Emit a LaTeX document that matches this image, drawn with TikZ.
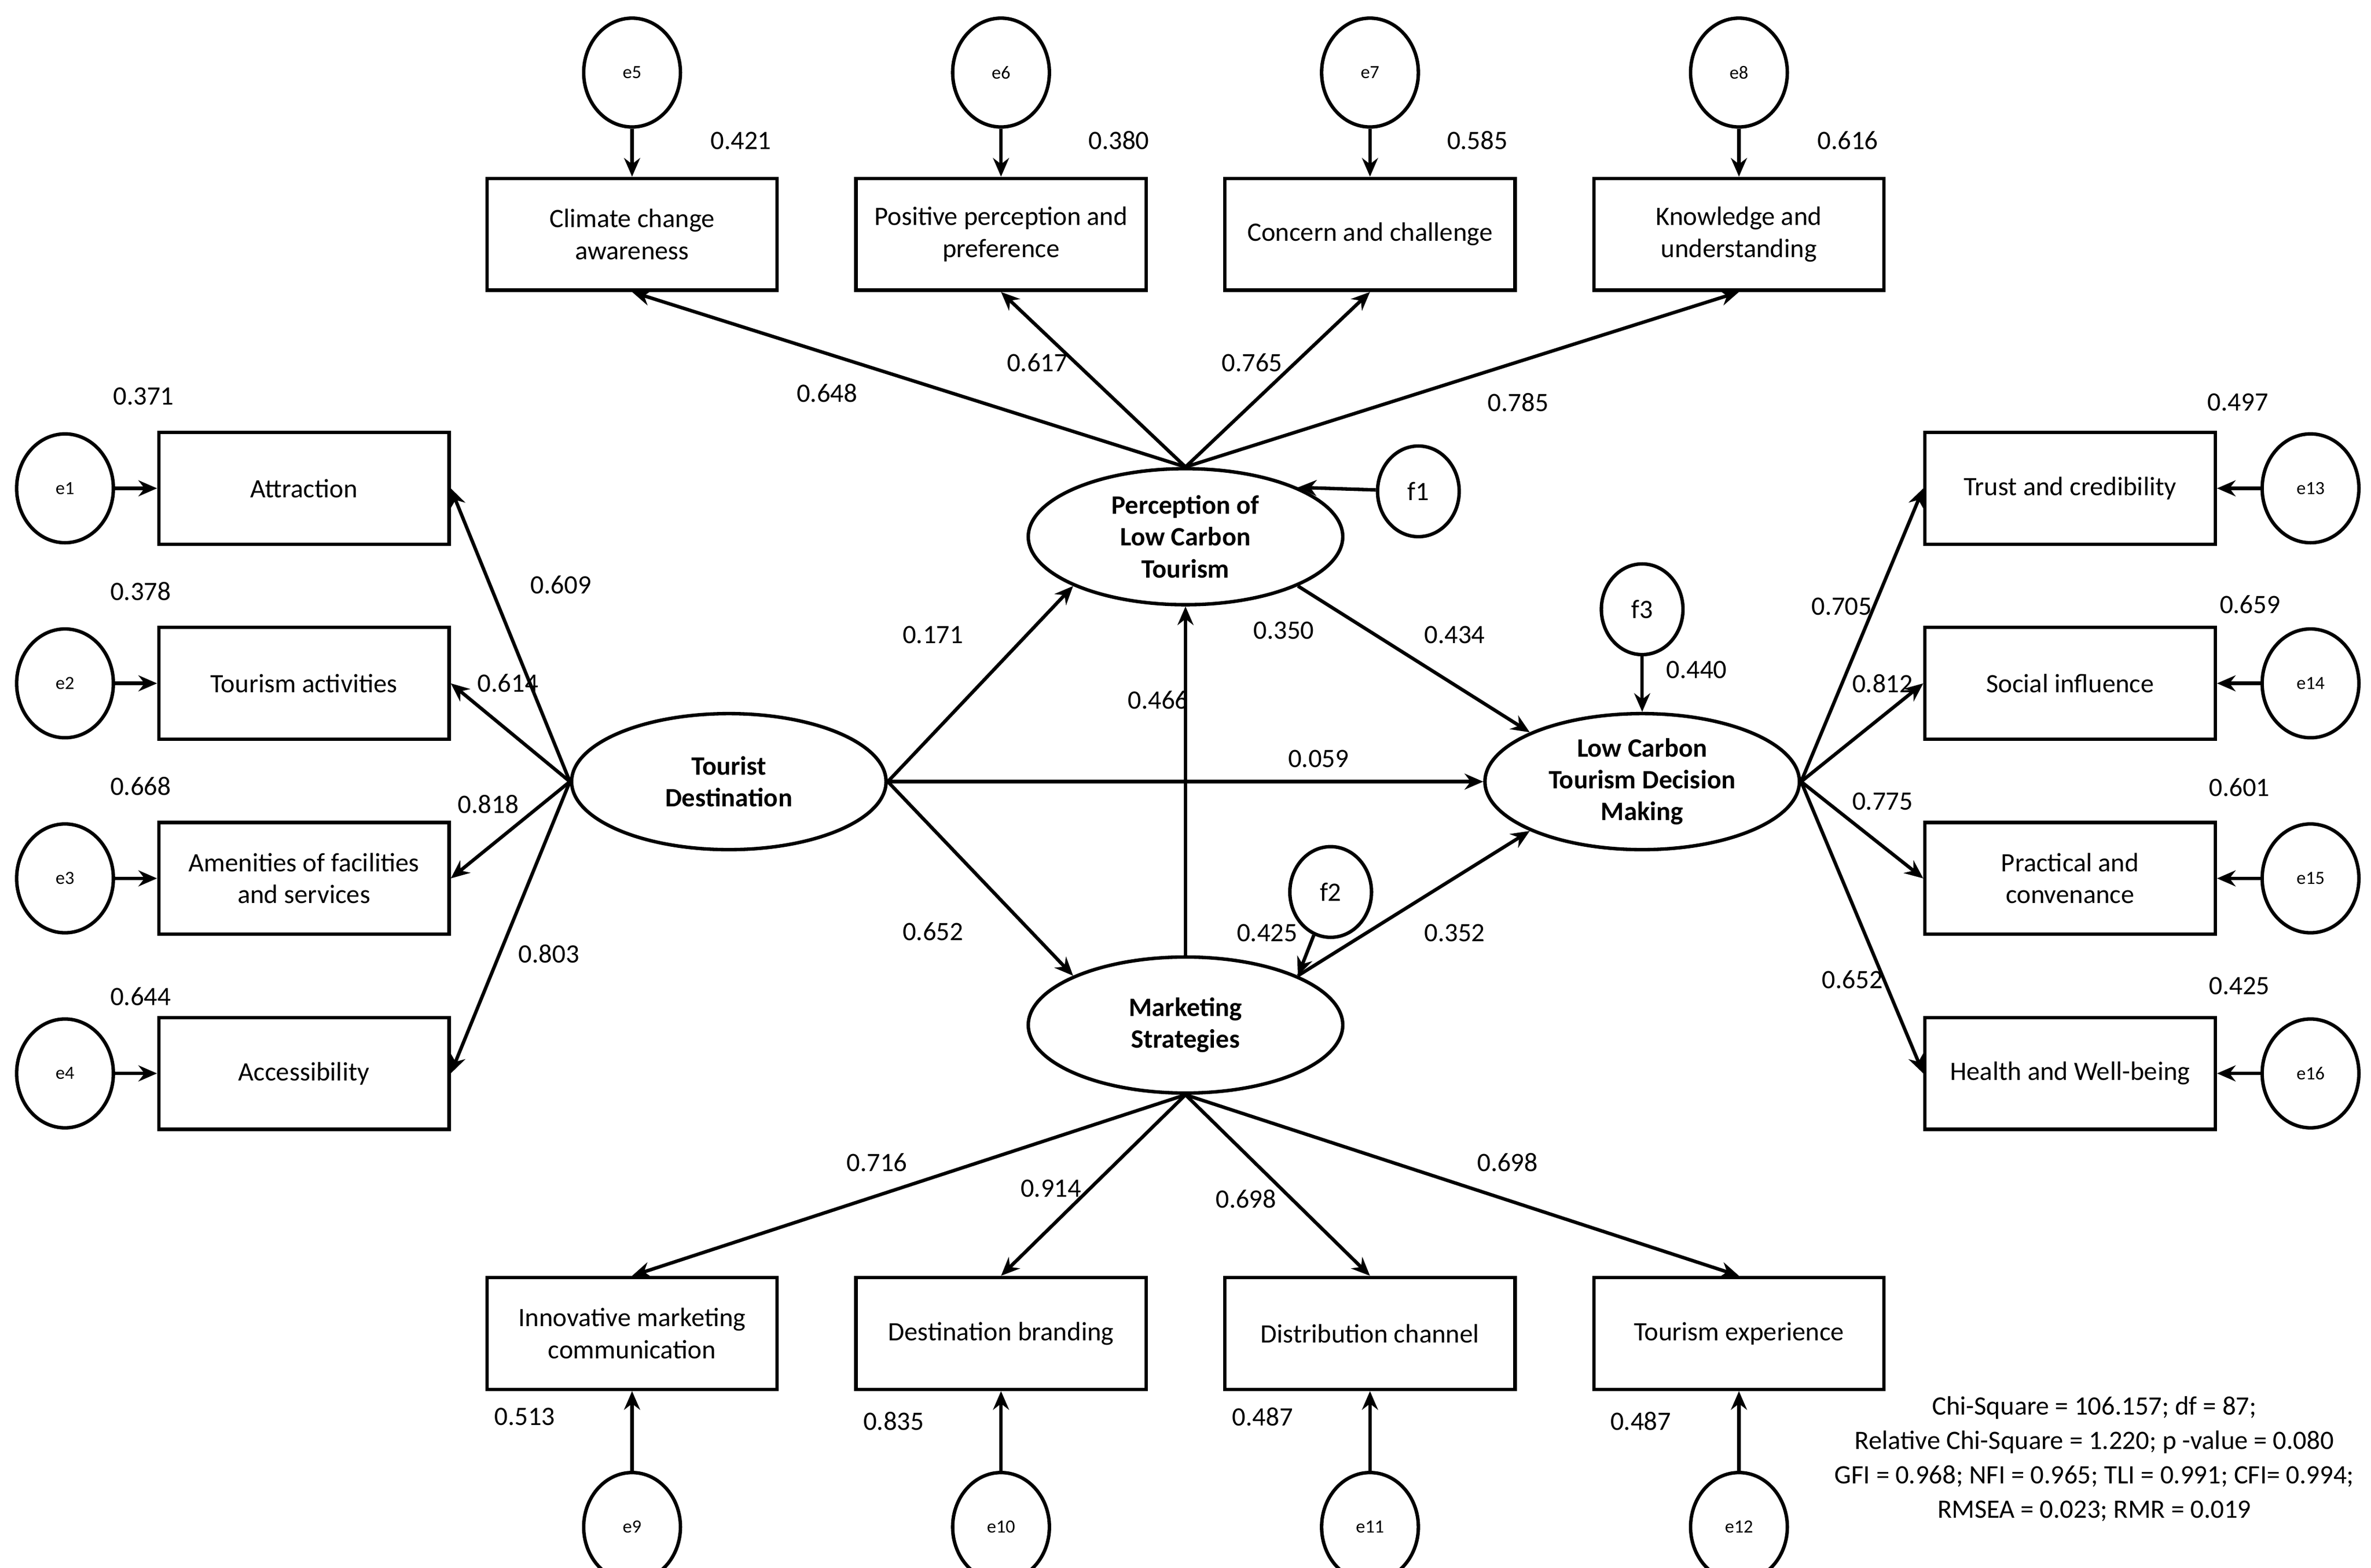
\documentclass[tikz,border=0pt]{standalone}
\usepackage{fontspec}
\setmainfont{Carlito}
\usetikzlibrary{shapes.geometric,arrows.meta}
\begin{document}
\begin{tikzpicture}[x=0.02cm,y=-0.02cm,
  box/.style={draw,line width=1.3pt,minimum width=3.84cm,minimum height=1.48cm,align=center,inner sep=1pt,font=\fontsize{10}{12}\selectfont},
  lat/.style={draw,ellipse,line width=1.3pt,minimum width=4.16cm,minimum height=1.8cm,align=center,inner sep=0pt,font=\bfseries\fontsize{10}{12}\selectfont},
  err/.style={draw,ellipse,line width=1.3pt,minimum width=1.28cm,minimum height=1.44cm,inner sep=0pt,font=\fontsize{7}{8}\selectfont},
  dis/.style={draw,ellipse,line width=1.3pt,minimum width=1.08cm,minimum height=1.2cm,inner sep=0pt,font=\fontsize{10}{12}\selectfont},
  arr/.style={line width=1.3pt,-{Stealth[length=7pt,width=6pt]}},
  lab/.style={font=\fontsize{10}{12}\selectfont}]
\useasboundingbox (0,0) rectangle (1568,1037);
% latent
\node[lat] (TD) at (482,517) {Tourist\\Destination};
\node[lat] (PL) at (784,355) {Perception of\\Low Carbon\\Tourism};
\node[lat] (MS) at (784,678) {Marketing\\Strategies};
\node[lat] (LD) at (1086,517) {Low Carbon\\Tourism Decision\\Making};
\node[dis] (f1) at (938,325) {f1};
\node[dis] (f3) at (1086,403) {f3};
\node[dis] (f2) at (880,590) {f2};
% top boxes
\node[box] (c1) at (418,155) {Climate change\\awareness};
\node[box] (c2) at (662,155) {Positive perception and\\preference};
\node[box] (c3) at (906,155) {Concern and challenge};
\node[box] (c4) at (1150,155) {Knowledge and\\understanding};
\node[err] (e5) at (418,48) {e5};
\node[err] (e6) at (662,48) {e6};
\node[err] (e7) at (906,48) {e7};
\node[err] (e8) at (1150,48) {e8};
% bottom boxes
\node[box] (m1) at (418,882) {Innovative marketing\\communication};
\node[box] (m2) at (662,882) {Destination branding};
\node[box] (m3) at (906,882) {Distribution channel};
\node[box] (m4) at (1150,882) {Tourism experience};
\node[err] (e9) at (418,1010) {e9};
\node[err] (e10) at (662,1010) {e10};
\node[err] (e11) at (906,1010) {e11};
\node[err] (e12) at (1150,1010) {e12};
% left boxes
\node[box] (t1) at (201,323) {Attraction};
\node[box] (t2) at (201,452) {Tourism activities};
\node[box] (t3) at (201,581) {Amenities of facilities\\and services};
\node[box] (t4) at (201,710) {Accessibility};
\node[err] (e1) at (43,323) {e1};
\node[err] (e2) at (43,452) {e2};
\node[err] (e3) at (43,581) {e3};
\node[err] (e4) at (43,710) {e4};
% right boxes
\node[box] (d1) at (1369,323) {Trust and credibility};
\node[box] (d2) at (1369,452) {Social influence};
\node[box] (d3) at (1369,581) {Practical and\\convenance};
\node[box] (d4) at (1369,710) {Health and Well-being};
\node[err] (e13) at (1528,323) {e13};
\node[err] (e14) at (1528,452) {e14};
\node[err] (e15) at (1528,581) {e15};
\node[err] (e16) at (1528,710) {e16};
% error arrows
\foreach \e/\b in {e5/c1,e6/c2,e7/c3,e8/c4}{\draw[arr] (\e) -- (\b.north);}
\foreach \e/\b in {e9/m1,e10/m2,e11/m3,e12/m4}{\draw[arr] (\e) -- (\b.south);}
\foreach \e/\b in {e1/t1,e2/t2,e3/t3,e4/t4}{\draw[arr] (\e) -- (\b.west);}
\foreach \e/\b in {e13/d1,e14/d2,e15/d3,e16/d4}{\draw[arr] (\e) -- (\b.east);}
% loadings
\foreach \b in {c1,c2,c3,c4}{\draw[arr] (PL.north) -- (\b.south);}
\foreach \b in {m1,m2,m3,m4}{\draw[arr] (MS.south) -- (\b.north);}
\foreach \b in {t1,t2,t3,t4}{\draw[arr] (TD.west) -- (\b.east);}
\foreach \b in {d1,d2,d3,d4}{\draw[arr] (LD.east) -- (\b.west);}
% structural
\draw[arr] (TD.east) -- (PL.south west);
\draw[arr] (TD.east) -- (MS.north west);
\draw[arr] (TD.east) -- (LD.west);
\draw[arr] (MS.north) -- (PL.south);
\draw[arr] (PL.south east) -- (LD.north west);
\draw[arr] (MS.north east) -- (LD.south west);
\draw[arr] (f1) -- (PL.north east);
\draw[arr] (f3) -- (LD.north);
\draw[arr] (f2) -- (MS.north east);
% labels
\foreach \t/\x/\y in {0.421/490/93,0.380/740/93,0.585/977/93,0.616/1222/93,
 0.513/347/937,0.835/591/940,0.487/835/937,0.487/1085/940,
 0.371/95/262,0.378/93/391,0.668/93/520,0.644/93/659,
 0.497/1480/266,0.659/1488/400,0.601/1481/521,0.425/1481/652,
 0.171/617/420,0.652/617/616,0.059/872/502,0.466/766/463,0.434/962/420,0.352/962/617,
 0.440/1122/443,0.350/849/417,0.425/838/617,
 0.609/371/387,0.614/336/452,0.818/323/532,0.803/363/631,
 0.648/547/260,0.617/686/240,0.765/828/240,0.785/1004/266,
 0.716/580/769,0.914/695/786,0.698/824/793,0.698/997/769,
 0.705/1218/401,0.812/1245/452,0.775/1245/530,0.652/1225/648}
 {\node[lab] at (\x,\y) {\t};}
\node[lab,align=center] (fit) at (1385,965) {Chi-Square = 106.157; df = 87;\\[1pt]Relative Chi-Square = 1.220; p -value = 0.080\\[1pt]GFI = 0.968; NFI = 0.965; TLI = 0.991; CFI= 0.994;\\[1pt]RMSEA = 0.023; RMR = 0.019};
\end{tikzpicture}
\end{document}
